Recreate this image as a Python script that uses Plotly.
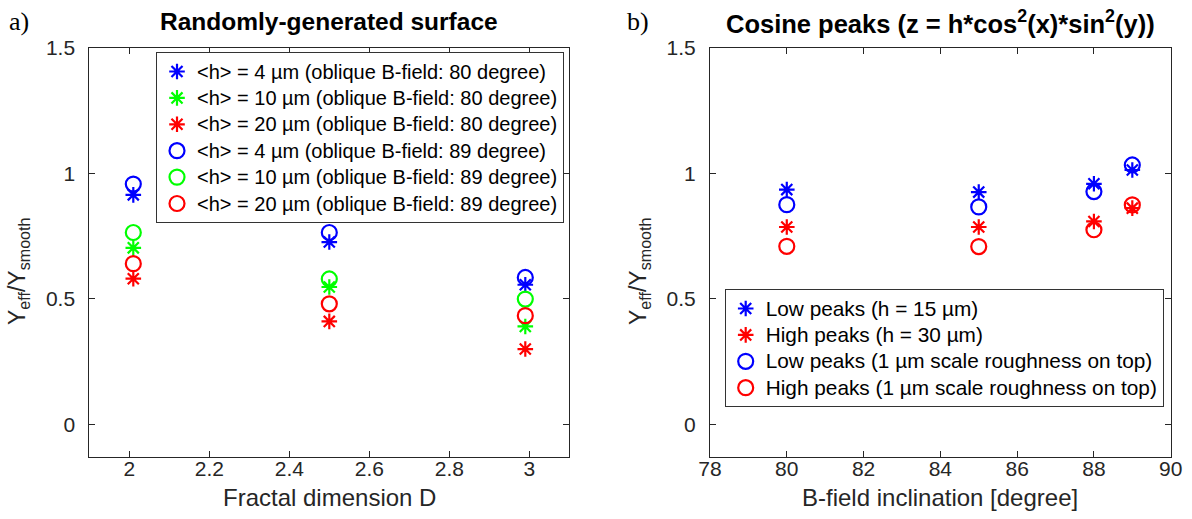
import plotly.graph_objects as go

# ---------------- data ----------------
D = [2.01, 2.5, 2.99]
h4_80 = [0.914, 0.726, 0.556]
h10_80 = [0.703, 0.547, 0.390]
h20_80 = [0.580, 0.410, 0.300]
h4_89 = [0.957, 0.764, 0.585]
h10_89 = [0.764, 0.579, 0.499]
h20_89 = [0.640, 0.480, 0.433]

left_names = [
    "&lt;h&gt; = 4 µm (oblique B-field: 80 degree)",
    "&lt;h&gt; = 10 µm (oblique B-field: 80 degree)",
    "&lt;h&gt; = 20 µm (oblique B-field: 80 degree)",
    "&lt;h&gt; = 4 µm (oblique B-field: 89 degree)",
    "&lt;h&gt; = 10 µm (oblique B-field: 89 degree)",
    "&lt;h&gt; = 20 µm (oblique B-field: 89 degree)",
]

incl = [80, 85, 88, 89]
low_peaks = [0.935, 0.925, 0.958, 1.013]
high_peaks = [0.786, 0.786, 0.808, 0.861]
low_rough = [0.875, 0.866, 0.927, 1.033]
high_rough = [0.709, 0.708, 0.775, 0.874]

right_names = [
    "Low peaks (h = 15 µm)",
    "High peaks (h = 30 µm)",
    "Low peaks (1 µm scale roughness on top)",
    "High peaks (1 µm scale roughness on top)",
]

x_ticks_left = [2, 2.2, 2.4, 2.6, 2.8, 3]
x_ticks_right = [78, 80, 82, 84, 86, 88, 90]
y_ticks = [0, 0.5, 1, 1.5]

BLUE, GREEN, RED = "#0000FF", "#00FF00", "#FF0000"
W, H = 1192, 519
FONT = "Liberation Sans, Arial, Helvetica, sans-serif"
AX = "#262626"
LEG_TXT = 20


def lbl(s, size=LEG_TXT):
    return f'<span style="font-size:{size}px">{s}</span>'


fig = go.Figure()


def star(x, y, color, name, xa, ya, leg):
    return go.Scatter(x=x, y=y, mode="markers", name=name, xaxis=xa, yaxis=ya, legend=leg,
                      marker=dict(symbol="asterisk-open", size=13, color=color,
                                  line=dict(color=color, width=2.2)))


def circ(x, y, color, name, xa, ya, leg):
    return go.Scatter(x=x, y=y, mode="markers", name=name, xaxis=xa, yaxis=ya, legend=leg,
                      marker=dict(symbol="circle-open", size=15, color=color,
                                  line=dict(color=color, width=2.2)))


fig.add_trace(star(D, h4_80, BLUE, lbl(left_names[0]), "x", "y", "legend"))
fig.add_trace(star(D, h10_80, GREEN, lbl(left_names[1]), "x", "y", "legend"))
fig.add_trace(star(D, h20_80, RED, lbl(left_names[2]), "x", "y", "legend"))
fig.add_trace(circ(D, h4_89, BLUE, lbl(left_names[3]), "x", "y", "legend"))
fig.add_trace(circ(D, h10_89, GREEN, lbl(left_names[4]), "x", "y", "legend"))
fig.add_trace(circ(D, h20_89, RED, lbl(left_names[5]), "x", "y", "legend"))

fig.add_trace(star(incl, low_peaks, BLUE, lbl(right_names[0], 20.8), "x2", "y2", "legend2"))
fig.add_trace(star(incl, high_peaks, RED, lbl(right_names[1], 20.8), "x2", "y2", "legend2"))
fig.add_trace(circ(incl, low_rough, BLUE, lbl(right_names[2], 20.8), "x2", "y2", "legend2"))
fig.add_trace(circ(incl, high_rough, RED, lbl(right_names[3], 20.8), "x2", "y2", "legend2"))

axis_common = dict(showline=True, linecolor=AX, linewidth=1, mirror="ticks", ticks="inside",
                   ticklen=6, tickcolor=AX, tickwidth=1, showgrid=False, zeroline=False,
                   automargin=False, tickfont=dict(family=FONT, size=21, color=AX))

ydom = [1 - 457 / H, 1 - 47.7 / H]
fig.update_layout(
    width=W, height=H, margin=dict(l=0, r=0, t=0, b=0, autoexpand=False),
    paper_bgcolor="white", plot_bgcolor="white", showlegend=True,
    xaxis=dict(domain=[89.3 / W, 569.3 / W], range=[1.9, 3.1], tickvals=x_ticks_left,
               ticktext=[str(v) for v in x_ticks_left], anchor="y", ticklabelstandoff=-7,
               **axis_common),
    yaxis=dict(domain=ydom, range=[-0.13, 1.5], tickvals=y_ticks,
               ticktext=["0", "0.5", "1", "1.5"], anchor="x", ticklabelstandoff=9,
               **axis_common),
    xaxis2=dict(domain=[710 / W, 1170.7 / W], range=[78, 90], tickvals=x_ticks_right,
                ticktext=[str(v) for v in x_ticks_right], anchor="y2", ticklabelstandoff=-7,
                **axis_common),
    yaxis2=dict(domain=ydom, range=[-0.13, 1.5], tickvals=y_ticks,
                ticktext=["0", "0.5", "1", "1.5"], anchor="x2", ticklabelstandoff=9,
                **axis_common),
    legend=dict(x=156 / W, y=1 - 52.3 / H, xanchor="left", yanchor="top",
                bgcolor="white", bordercolor="#333333", borderwidth=1,
                font=dict(family=FONT, size=18, color="black"), tracegroupgap=0),
    legend2=dict(x=724.7 / W, y=1 - 289.3 / H, xanchor="left", yanchor="top",
                 bgcolor="white", bordercolor="#333333", borderwidth=1,
                 font=dict(family=FONT, size=18, color="black"), tracegroupgap=0),
)

ann = []
ann.append(dict(text="a)", x=7 / W, y=1 - 22 / H, xref="paper", yref="paper", xanchor="left",
                yanchor="middle", showarrow=False,
                font=dict(family="Liberation Serif, Times New Roman, serif", size=26, color="black")))
ann.append(dict(text="b)", x=625 / W, y=1 - 22 / H, xref="paper", yref="paper", xanchor="left",
                yanchor="middle", showarrow=False,
                font=dict(family="Liberation Serif, Times New Roman, serif", size=26, color="black")))
ann.append(dict(text="<b>Randomly-generated surface</b>", x=329.3 / W, y=1 - 22 / H,
                xref="paper", yref="paper", xanchor="center", yanchor="middle", showarrow=False,
                font=dict(family=FONT, size=24.5, color="black")))
ann.append(dict(text="<b>Cosine peaks (z = h*cos<sup>2</sup>(x)*sin<sup>2</sup>(y))</b>",
                x=940 / W, y=1 - 22 / H, xref="paper", yref="paper", xanchor="center",
                yanchor="middle", showarrow=False, font=dict(family=FONT, size=25.5, color="black")))
ann.append(dict(text="Fractal dimension D", x=329.3 / W, y=1 - 497 / H, xref="paper",
                yref="paper", xanchor="center", yanchor="middle", showarrow=False,
                font=dict(family=FONT, size=24, color=AX)))
ann.append(dict(text="B-field inclination [degree]", x=940 / W, y=1 - 497 / H, xref="paper",
                yref="paper", xanchor="center", yanchor="middle", showarrow=False,
                font=dict(family=FONT, size=24, color=AX)))
for xc in (18, 639):
    ann.append(dict(text="Y<sub>eff</sub>/Y<sub>smooth</sub>", x=xc / W, y=1 - 272 / H,
                    xref="paper", yref="paper", xanchor="center", yanchor="middle",
                    textangle=-90, showarrow=False, font=dict(family=FONT, size=23, color=AX)))
fig.update_layout(annotations=ann)

fig.write_html("out.html")
